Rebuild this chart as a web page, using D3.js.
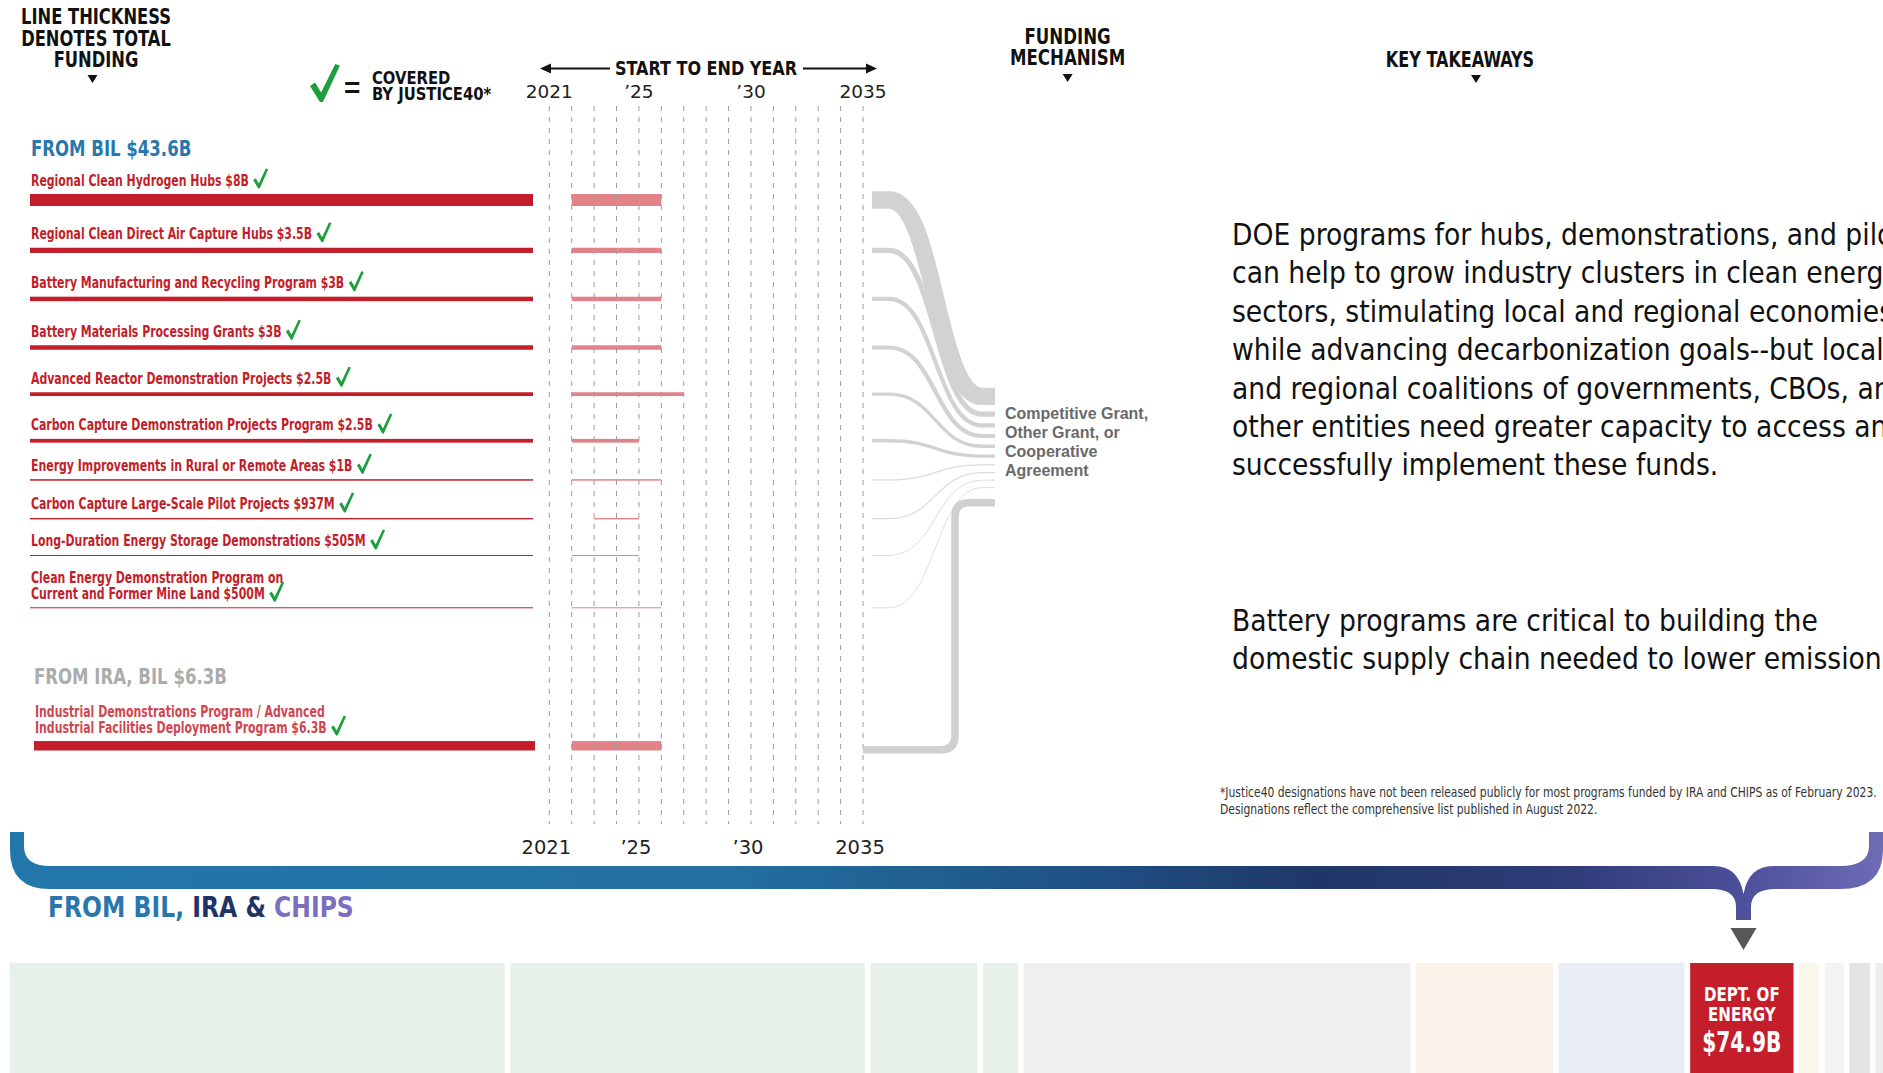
<!DOCTYPE html>
<html><head><meta charset="utf-8">
<script src="https://cdn.jsdelivr.net/npm/d3@7"></script>
<style>
html,body{margin:0;padding:0;background:#fff;overflow:hidden}
svg{display:block}
</style></head><body>
<svg id="c" width="1883" height="1073"></svg>
<script>
// ---------------- DATA ----------------
const programLabels = [
  ["Regional Clean Hydrogen Hubs $8B"],
  ["Regional Clean Direct Air Capture Hubs $3.5B"],
  ["Battery Manufacturing and Recycling Program $3B"],
  ["Battery Materials Processing Grants $3B"],
  ["Advanced Reactor Demonstration Projects $2.5B"],
  ["Carbon Capture Demonstration Projects Program $2.5B"],
  ["Energy Improvements in Rural or Remote Areas $1B"],
  ["Carbon Capture Large-Scale Pilot Projects $937M"],
  ["Long-Duration Energy Storage Demonstrations $505M"],
  ["Clean Energy Demonstration Program on", "Current and Former Mine Land $500M"],
  ["Industrial Demonstrations Program / Advanced", "Industrial Facilities Deployment Program $6.3B"]
];
const programFunding = [8, 3.5, 3, 3, 2.5, 2.5, 1, 0.937, 0.505, 0.5, 6.3]; // $B
const programStart   = [2022, 2022, 2022, 2022, 2022, 2022, 2022, 2023, 2022, 2022, 2022];
const programEnd     = [2026, 2026, 2026, 2026, 2027, 2025, 2026, 2025, 2025, 2026, 2026];
const programSource  = ["BIL","BIL","BIL","BIL","BIL","BIL","BIL","BIL","BIL","BIL","IRA, BIL"];
const programJustice40 = [true, true, true, true, true, true, true, true, true, true, true];
const sourceGroupLabels = {"BIL": "FROM BIL $43.6B", "IRA, BIL": "FROM IRA, BIL $6.3B"};
const gridYears = [2021,2022,2023,2024,2025,2026,2027,2028,2029,2030,2031,2032,2033,2034,2035];
const yearTicks = [2021, 2025, 2030, 2035];
const yearTickLabels = ["2021", "\u201925", "\u201930", "2035"];
const mechanismLabel = ["Competitive Grant,", "Other Grant, or", "Cooperative", "Agreement"];
const takeaway1 = ["DOE programs for hubs, demonstrations, and pilots",
  "can help to grow industry clusters in clean energy",
  "sectors, stimulating local and regional economies",
  "while advancing decarbonization goals--but local",
  "and regional coalitions of governments, CBOs, and",
  "other entities need greater capacity to access and",
  "successfully implement these funds."];
const takeaway2 = ["Battery programs are critical to building the",
  "domestic supply chain needed to lower emissions."];
const footnote = ["*Justice40 designations have not been released publicly for most programs funded by IRA and CHIPS as of February 2023.",
  "Designations reflect the comprehensive list published in August 2022."];
// bottom strip: funding by agency (estimated, $B)
const agencyTotals = [358.8, 257, 77.6, 25.4, 280.4, 99.3, 91.4, 74.9, 14.7, 13.8, 14.9, 12];
const agencyLabels = ["","","","","","","",["DEPT. OF","ENERGY","$74.9B"],"","","",""];
const agencyColors = ["#e7f0e9","#e7f0e9","#e7f0e9","#e7f0e9","#efefef","#fbf2e9","#e8eef3","#c41e2a","#fbf7ea","#f3f3f3","#e3e3e3","#eeeeee"];

// ---------------- STYLE ----------------
const NARROW = "'Liberation Sans Narrow','Arial Narrow','DejaVu Sans Condensed',sans-serif";
const SANS = "'Liberation Sans',Arial,sans-serif";
const RED = "#c21f2b";
const GREEN = "#1e9e3c";
const FLOW = "#d2d2d2";

const svg = d3.select("#c");

// horizontally condense a text around its anchor point
function cond(t, f) {
  const x = +t.attr("x"), y = +t.attr("y");
  t.attr("x", 0).attr("y", 0).attr("transform", `translate(${x},${y}) scale(${f},1)`);
  return t;
}

// scales
const x = d3.scaleLinear().domain([2021, 2035]).range([549.3, 863]);
const barW = d3.scaleLinear().domain([0, 8]).range([0, 12]);
const bw = i => Math.max(1, barW(programFunding[i]));
const flowScale = d3.scalePow().exponent(1.6).domain([0, 8]).range([0, 16.7]);
const fw = i => flowScale(programFunding[i]) + 0.7;

// row layout derived from line thickness & label lines
const rowY = [];
{
  let y = 200;
  programFunding.forEach((v, i) => {
    if (i === 0) { rowY.push(y); return; }
    if (programSource[i] !== programSource[i - 1]) { y += 138; rowY.push(y); return; }
    const mn = Math.min(bw(i - 1), bw(i));
    y += 26.3 + 10.5 * Math.sqrt(mn) + (programLabels[i].length - 1) * 15.5;
    rowY.push(y);
  });
}

function checkPath(x0, y0, w, h) {
  const pts = [[0,0.58],[0.17,0.49],[0.37,0.75],[0.84,0],[1,0.04],[0.43,1],[0.33,1]];
  return "M" + pts.map(p => (x0 + p[0]*w).toFixed(1) + "," + (y0 + p[1]*h).toFixed(1)).join("L") + "Z";
}
function tri(cx, ty, w, h) {
  return `M${cx - w/2},${ty}L${cx + w/2},${ty}L${cx},${ty + h}Z`;
}

// ---------------- HEADERS ----------------
const hdr = svg.append("g").attr("font-family", NARROW).attr("font-weight", "bold").attr("fill", "#111");
["LINE THICKNESS", "DENOTES TOTAL", "FUNDING"].forEach((t, i) =>
  cond(hdr.append("text").attr("x", 96).attr("y", 24 + i * 21.5).attr("text-anchor", "middle").attr("font-size", 20.5).text(t), 0.885));
hdr.append("path").attr("d", tri(92.5, 75, 10, 8)).attr("fill", "#111");
["FUNDING", "MECHANISM"].forEach((t, i) =>
  cond(hdr.append("text").attr("x", 1067.6).attr("y", 44 + i * 20.5).attr("text-anchor", "middle").attr("font-size", 20.5).text(t), 0.9));
hdr.append("path").attr("d", tri(1067.6, 74, 10, 8)).attr("fill", "#111");
cond(hdr.append("text").attr("x", 1460).attr("y", 67).attr("text-anchor", "middle").attr("font-size", 20.5).text("KEY TAKEAWAYS"), 0.87);
hdr.append("path").attr("d", tri(1476, 75, 10, 8)).attr("fill", "#111");

// justice40 legend
svg.append("path").attr("d", checkPath(310, 64, 30, 38)).attr("fill", GREEN);
svg.append("text").attr("x", 344).attr("y", 97).attr("font-family", SANS).attr("font-weight", "bold")
  .attr("font-size", 28).attr("fill", "#111").text("=");
cond(hdr.append("text").attr("x", 372).attr("y", 84).attr("font-size", 17.5).text("COVERED"), 0.94);
cond(hdr.append("text").attr("x", 372).attr("y", 99.5).attr("font-size", 17.5).text("BY JUSTICE40*"), 0.94);

// start to end year arrow
cond(hdr.append("text").attr("x", 706).attr("y", 75).attr("text-anchor", "middle").attr("font-size", 20).text("START TO END YEAR"), 0.89);
svg.append("line").attr("x1", 548).attr("x2", 610).attr("y1", 68.5).attr("y2", 68.5).attr("stroke", "#111").attr("stroke-width", 2);
svg.append("line").attr("x1", 803).attr("x2", 869).attr("y1", 68.5).attr("y2", 68.5).attr("stroke", "#111").attr("stroke-width", 2);
svg.append("path").attr("d", "M540,68.5L551,63.5L551,73.5Z").attr("fill", "#111");
svg.append("path").attr("d", "M877,68.5L866,63.5L866,73.5Z").attr("fill", "#111");

// year labels (top & bottom)
const yl = svg.append("g").attr("font-family", "'DejaVu Sans',sans-serif").attr("fill", "#222").attr("text-anchor", "middle");
yearTicks.forEach((yr, i) => {
  yl.append("text").attr("x", x(yr)).attr("y", 98).attr("font-size", 18.5).text(yearTickLabels[i]);
  yl.append("text").attr("x", x(yr) - 3).attr("y", 854).attr("font-size", 19.5).text(yearTickLabels[i]);
});

// ---------------- GROUP HEADERS & LABELS ----------------
const groups = [...new Set(programSource)];
groups.forEach(g => {
  const first = programSource.indexOf(g);
  const isFirst = first === 0;
  cond(svg.append("text").attr("x", isFirst ? 31 : 34).attr("y", rowY[first] - (isFirst ? 44.5 : 62))
    .attr("font-family", NARROW).attr("font-weight", "bold").attr("font-size", 21.5)
    .attr("fill", isFirst ? "#2a77ad" : "#acacac").text(sourceGroupLabels[g]), 0.855);
});

const LABF = 0.81;
const labG = svg.append("g").attr("font-family", NARROW).attr("font-weight", "bold").attr("font-size", 15);
programLabels.forEach((lines, i) => {
  const lastBase = rowY[i] - bw(i) / 2 - 8.5;
  const isIra = programSource[i] !== "BIL";
  let lastLen = 0;
  lines.forEach((t, k) => {
    const tx = labG.append("text").attr("x", isIra ? 35 : 31)
      .attr("y", lastBase - (lines.length - 1 - k) * 15.5)
      .attr("fill", isIra ? "#cf4750" : RED).text(t);
    lastLen = tx.node().getComputedTextLength() * LABF;
    cond(tx, LABF);
  });
  if (programJustice40[i]) {
    const cx = (isIra ? 35 : 31) + lastLen + 4;
    svg.append("path").attr("d", checkPath(cx, lastBase - 17, 15, 20)).attr("fill", GREEN);
  }
  svg.append("rect").attr("x", isIra ? 34 : 30).attr("width", isIra ? 501 : 503)
    .attr("y", rowY[i] - bw(i) / 2).attr("height", bw(i)).attr("fill", RED);
});

// ---------------- TIMELINE ----------------
programFunding.forEach((v, i) => {
  svg.append("rect").attr("x", x(programStart[i])).attr("width", x(programEnd[i]) - x(programStart[i]))
    .attr("y", rowY[i] - bw(i) / 2).attr("height", bw(i)).attr("fill", "#e2838a");
});
svg.append("g").selectAll("line").data(gridYears).join("line")
  .attr("x1", d => x(d)).attr("x2", d => x(d)).attr("y1", 106).attr("y2", 824)
  .attr("stroke", "#9c9c9c").attr("stroke-width", 1).attr("stroke-dasharray", "5,6");

// ---------------- FLOWS ----------------
const fx0 = 872, fxa = 889, fxb = 982, fx1 = 995;
const ends = [];
{
  let ey = 387.7;
  programSource.forEach((s, i) => {
    if (s !== "BIL") return;
    const w = fw(i);
    if (i > 0) ey += 6.5;
    ends[i] = ey + w / 2;
    ey += w;
  });
  ends.lastEdge = ey;
}
const flowG = svg.append("g").attr("fill", "none").attr("stroke", FLOW);
programSource.forEach((s, i) => {
  if (s !== "BIL") return;
  const y0 = rowY[i], y1 = ends[i], m = (fxa + fxb) / 2;
  flowG.append("path")
    .attr("d", `M${fx0},${y0}L${fxa},${y0}C${m},${y0} ${m},${y1} ${fxb},${y1}L${fx1},${y1}`)
    .attr("stroke-width", fw(i)).attr("stroke-opacity", fw(i) < 2 ? 0.8 : 1);
});
programSource.forEach((s, i) => {
  if (s === "BIL") return;
  const w = bw(i) * 0.8;
  const yb = rowY[i] + 4, yt = ends.lastEdge + 11 + w / 2, vx = 955, r = 14;
  flowG.append("path")
    .attr("d", `M${x(2035)},${yb}L${vx - r},${yb}Q${vx},${yb} ${vx},${yb - r}L${vx},${yt + r}Q${vx},${yt} ${vx + r},${yt}L${fx1},${yt}`)
    .attr("stroke-width", w).attr("stroke", "#d0d0d0");
});
svg.append("g").attr("font-family", SANS).attr("font-weight", "bold").attr("font-size", 16).attr("fill", "#6a6a6a")
  .selectAll("text").data(mechanismLabel).join("text")
  .attr("x", 1005).attr("y", (d, k) => 419 + k * 19).text(d => d);

// ---------------- TAKEAWAYS ----------------
const tk = svg.append("g").attr("font-family", NARROW).attr("font-size", 31).attr("fill", "#111");
takeaway1.forEach((t, k) => cond(tk.append("text").attr("x", 1232).attr("y", 245 + k * 38.4).text(t), 0.955));
takeaway2.forEach((t, k) => cond(tk.append("text").attr("x", 1232).attr("y", 631 + k * 38.4).text(t), 0.955));
const fn = svg.append("g").attr("font-family", NARROW).attr("font-size", 13.5).attr("fill", "#333");
footnote.forEach((t, k) => cond(fn.append("text").attr("x", 1220).attr("y", 797 + k * 16.5).text(t), 0.885));

// ---------------- BRACE ----------------
const defs = svg.append("defs");
const grad = defs.append("linearGradient").attr("id", "bg").attr("gradientUnits", "userSpaceOnUse")
  .attr("x1", 0).attr("x2", 1883).attr("y1", 0).attr("y2", 0);
[[0, "#2377aa"], [0.38, "#2371a2"], [0.57, "#1f5286"], [0.70, "#1f3768"], [0.83, "#2e3c78"], [0.92, "#4a4e98"], [1, "#6f6cb6"]]
  .forEach(s => grad.append("stop").attr("offset", s[0]).attr("stop-color", s[1]));
{
  const yT = 866, yB = 889, top = 832, cx = 1743.5, sw = 7.5, stemB = 920;
  const d = `M10,${top}L10,850Q10,${yB} 50,${yB}L${cx - 32},${yB}Q${cx - sw},${yB} ${cx - sw},${yB + 18}L${cx - sw},${stemB}` +
    `L${cx + sw},${stemB}L${cx + sw},${yB + 18}Q${cx + sw},${yB} ${cx + 32},${yB}L1840,${yB}Q1883,${yB} 1883,850L1883,${top}` +
    `L1869,${top}L1869,846Q1869,${yT} 1840,${yT}L${cx + 30},${yT}Q${cx + 5},${yT} ${cx},${yB + 5}Q${cx - 5},${yT} ${cx - 30},${yT}` +
    `L50,${yT}Q24,${yT} 24,846L24,${top}Z`;
  svg.append("path").attr("d", d).attr("fill", "url(#bg)");
  svg.append("path").attr("d", tri(cx, 928, 26, 22)).attr("fill", "#575757");
}
const bt = svg.append("text").attr("x", 48).attr("y", 917).attr("font-family", NARROW).attr("font-weight", "bold").attr("font-size", 29);
bt.append("tspan").attr("fill", "#2a77ad").text("FROM BIL, ");
bt.append("tspan").attr("fill", "#1e3366").text("IRA & ");
bt.append("tspan").attr("fill", "#7a70bf").text("CHIPS");
cond(bt, 0.9);

// ---------------- AGENCY STRIP ----------------
{
  const k = 1.38, gap = 5.5, x0 = 9.6;
  const sx = d3.scaleLinear().domain([0, 1]).range([0, k]);
  let cur = x0;
  agencyTotals.forEach((v, i) => {
    const w = sx(v);
    svg.append("rect").attr("x", cur).attr("y", 963).attr("width", w).attr("height", 115).attr("fill", agencyColors[i]);
    if (agencyLabels[i]) {
      const c = cur + w / 2;
      const g = svg.append("g").attr("font-family", NARROW).attr("font-weight", "bold").attr("fill", "#fff").attr("text-anchor", "middle");
      cond(g.append("text").attr("x", c).attr("y", 1001).attr("font-size", 19.5).text(agencyLabels[i][0]), 0.86);
      cond(g.append("text").attr("x", c).attr("y", 1020.5).attr("font-size", 19.5).text(agencyLabels[i][1]), 0.86);
      cond(g.append("text").attr("x", c).attr("y", 1052).attr("font-size", 28).text(agencyLabels[i][2]), 0.8);
    }
    cur += w + gap;
  });
}
</script>
</body></html>
